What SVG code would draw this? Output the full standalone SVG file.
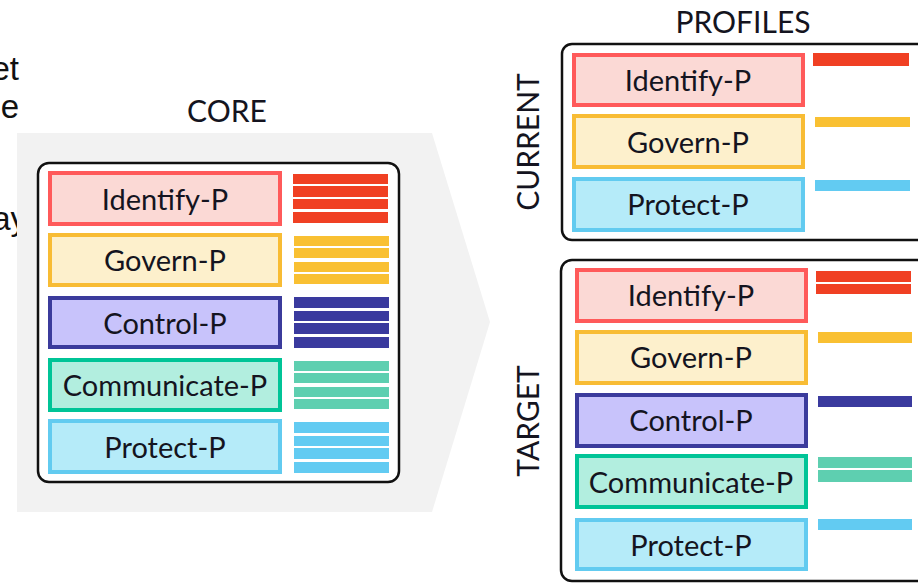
<svg xmlns="http://www.w3.org/2000/svg" width="918" height="583" viewBox="0 0 918 583">
<style>
.lbl{font-family:Lato,"Open Sans","Noto Sans",sans-serif;font-size:29px;fill:#141420;text-anchor:middle}
.ttl{font-family:Lato,"Open Sans","Noto Sans",sans-serif;font-size:30px;fill:#141420;text-anchor:middle}
.side{font-family:"Liberation Sans",Arial,sans-serif;font-size:33px;fill:#111;text-anchor:end}
.frame{fill:#fff;stroke:#111;stroke-width:2.5}
.r{stroke-width:4}
.idf{fill:#fbd9d5;stroke:#ff5a5a}
.gov{fill:#fdf0cc;stroke:#f8bc34}
.ctl{fill:#c8c3fb;stroke:#3b3b9c}
.com{fill:#b2eedf;stroke:#00c497}
.pro{fill:#b5ebf9;stroke:#62cbf0}
.bi{fill:#f04023}.bg{fill:#f9c032}.bc{fill:#3a3a9e}.bm{fill:#5ecfb0}.bp{fill:#62cbf2}
</style>
<rect width="918" height="583" fill="#fff"/>
<g id="side-text">
<text class="side" x="19" y="80">et</text>
<text class="side" x="19" y="118">e</text>
<text class="side" x="27" y="230">ay</text>
</g>
<polygon id="core-chevron" points="17,133 432,133 490,322 432,512 17,512" fill="#f2f2f2"/>
<text class="ttl" x="227" y="122">CORE</text>
<g id="core">
<rect class="frame" x="38" y="163" width="361" height="319" rx="11"/>
<g id="core-identify">
<rect class="r idf" x="50" y="173" width="230" height="51"/>
<text class="lbl" x="165" y="210">Identify-P</text>
<rect class="bi" x="293" y="174" width="95" height="10"/><rect class="bi" x="293" y="186" width="95" height="11"/><rect class="bi" x="293" y="199" width="95" height="10"/><rect class="bi" x="293" y="212" width="95" height="11"/>
</g>
<g id="core-govern">
<rect class="r gov" x="50" y="235" width="230" height="50"/>
<text class="lbl" x="165" y="271">Govern-P</text>
<rect class="bg" x="294" y="236" width="95" height="10"/><rect class="bg" x="294" y="248" width="95" height="10"/><rect class="bg" x="294" y="262" width="95" height="10"/><rect class="bg" x="294" y="274" width="95" height="10"/>
</g>
<g id="core-control">
<rect class="r ctl" x="50" y="298" width="230" height="49"/>
<text class="lbl" x="165" y="334">Control-P</text>
<rect class="bc" x="294" y="297" width="95" height="11"/><rect class="bc" x="294" y="311" width="95" height="10"/><rect class="bc" x="294" y="323" width="95" height="11"/><rect class="bc" x="294" y="337" width="95" height="11"/>
</g>
<g id="core-communicate">
<rect class="r com" x="50" y="360" width="230" height="50"/>
<text class="lbl" x="165" y="396">Communicate-P</text>
<rect class="bm" x="294" y="361" width="95" height="10"/><rect class="bm" x="294" y="373" width="95" height="10"/><rect class="bm" x="294" y="387" width="95" height="10"/><rect class="bm" x="294" y="399" width="95" height="10"/>
</g>
<g id="core-protect">
<rect class="r pro" x="50" y="421" width="230" height="51"/>
<text class="lbl" x="165" y="458">Protect-P</text>
<rect class="bp" x="294" y="422" width="95" height="11"/><rect class="bp" x="294" y="436" width="95" height="10"/><rect class="bp" x="294" y="448" width="95" height="11"/><rect class="bp" x="294" y="462" width="95" height="11"/>
</g>
</g>
<text class="ttl" x="743" y="33">PROFILES</text>
<g id="current">
<rect class="frame" x="562" y="44" width="370" height="196" rx="10"/>
<text class="ttl" transform="translate(539,142) rotate(-90)">CURRENT</text>
<g id="cur-identify">
<rect class="r idf" x="574" y="55" width="229" height="50"/>
<text class="lbl" x="688" y="91">Identify-P</text>
<rect class="bi" x="813" y="53" width="96" height="13"/>
</g>
<g id="cur-govern">
<rect class="r gov" x="574" y="116" width="229" height="51"/>
<text class="lbl" x="688" y="153">Govern-P</text>
<rect class="bg" x="815" y="117" width="95" height="10"/>
</g>
<g id="cur-protect">
<rect class="r pro" x="574" y="179" width="229" height="51"/>
<text class="lbl" x="688" y="215">Protect-P</text>
<rect class="bp" x="815" y="180" width="95" height="11"/>
</g>
</g>
<g id="target">
<rect class="frame" x="561" y="260" width="370" height="321" rx="11"/>
<text class="ttl" transform="translate(539,421) rotate(-90)">TARGET</text>
<g id="tgt-identify">
<rect class="r idf" x="577" y="270" width="229" height="51"/>
<text class="lbl" x="691" y="306">Identify-P</text>
<rect class="bi" x="816" y="271" width="95" height="11"/><rect class="bi" x="816" y="284" width="95" height="10"/>
</g>
<g id="tgt-govern">
<rect class="r gov" x="577" y="332" width="229" height="51"/>
<text class="lbl" x="691" y="368">Govern-P</text>
<rect class="bg" x="818" y="332" width="94" height="11"/>
</g>
<g id="tgt-control">
<rect class="r ctl" x="577" y="395" width="229" height="51"/>
<text class="lbl" x="691" y="431">Control-P</text>
<rect class="bc" x="818" y="396" width="94" height="11"/>
</g>
<g id="tgt-communicate">
<rect class="r com" x="577" y="456" width="229" height="51"/>
<text class="lbl" x="691" y="493">Communicate-P</text>
<rect class="bm" x="818" y="457" width="94" height="11"/><rect class="bm" x="818" y="470" width="94" height="12"/>
</g>
<g id="tgt-protect">
<rect class="r pro" x="577" y="520" width="229" height="49"/>
<text class="lbl" x="691" y="556">Protect-P</text>
<rect class="bp" x="818" y="519" width="94" height="11"/>
</g>
</g>
</svg>
